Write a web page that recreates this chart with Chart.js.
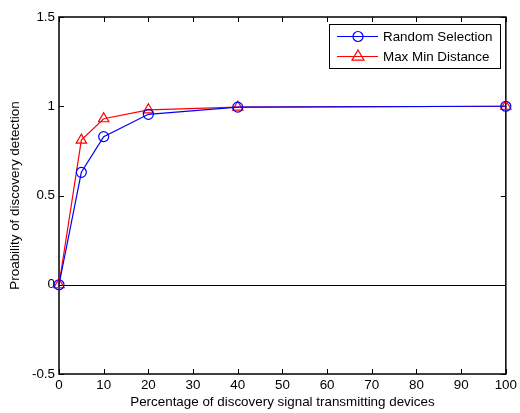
<!DOCTYPE html>
<html>
<head>
<meta charset="utf-8">
<script src="https://cdn.jsdelivr.net/npm/chart.js@4/dist/chart.umd.min.js"></script>
<style>
  html, body { margin: 0; padding: 0; background: #fff; }
  #wrap { width: 520px; height: 413px; }
</style>
</head>
<body>
<div id="wrap"><canvas id="chart" width="520" height="413"></canvas></div>
<script>
// Data
const percentages = [0, 5, 10, 20, 40, 100];
const randomSelection = [0, 0.63, 0.83, 0.955, 0.995, 1.0];
const maxMinDistance = [0, 0.81, 0.93, 0.98, 0.995, 1.0];
const seriesNames = ['Random Selection', 'Max Min Distance'];

const FONT = { family: '"Liberation Sans", Arial, sans-serif', size: 13.4 };

function toPoints(xs, ys) {
    return xs.map((x, i) => ({ x: x, y: ys[i] }));
}

// frame, inward ticks and the y=0 line (matlab style)
const framePlugin = {
    id: 'frame',
    beforeDatasetsDraw(chart) {
        const ctx = chart.ctx;
        const a = chart.chartArea;
        const xs = chart.scales.x, ys = chart.scales.y;
        const len = 5;
        ctx.save();
        ctx.strokeStyle = '#000';
        ctx.lineWidth = 1;

        // zero line
        const y0 = Math.round(ys.getPixelForValue(0)) + 0.5;
        ctx.beginPath();
        ctx.moveTo(a.left, y0);
        ctx.lineTo(a.right, y0);
        ctx.stroke();

        ctx.beginPath();
        xs.ticks.forEach(t => {
            const px = Math.round(xs.getPixelForValue(t.value)) + 0.5;
            ctx.moveTo(px, a.bottom); ctx.lineTo(px, a.bottom - len);
            ctx.moveTo(px, a.top); ctx.lineTo(px, a.top + len);
        });
        ys.ticks.forEach(t => {
            const py = Math.round(ys.getPixelForValue(t.value)) + 0.5;
            ctx.moveTo(a.left, py); ctx.lineTo(a.left + len, py);
            ctx.moveTo(a.right, py); ctx.lineTo(a.right - len, py);
        });
        ctx.stroke();

        ctx.lineWidth = 1.5;
        ctx.strokeRect(a.left, a.top, a.right - a.left, a.bottom - a.top);
        ctx.restore();
    }
};

// legend box inside the plot, top right
const boxLegend = {
    id: 'boxLegend',
    afterDraw(chart) {
        const ctx = chart.ctx;
        const left = 329, top = 24, w = 171, h = 44;
        ctx.save();
        ctx.fillStyle = '#fff';
        ctx.fillRect(left, top, w, h);
        ctx.strokeStyle = '#000';
        ctx.lineWidth = 1;
        ctx.strokeRect(left + 0.5, top + 0.5, w, h);

        chart.data.datasets.forEach((ds, i) => {
            const y = top + 12 + i * 20;
            ctx.strokeStyle = ds.borderColor;
            ctx.lineWidth = ds.borderWidth;
            ctx.beginPath();
            ctx.moveTo(337, y + 0.5);
            ctx.lineTo(378, y + 0.5);
            ctx.stroke();
            const mx = 358;
            ctx.beginPath();
            if (ds.pointStyle === 'circle') {
                ctx.arc(mx, y + 0.5, ds.pointRadius, 0, Math.PI * 2);
            } else {
                const r = ds.pointRadius;
                ctx.moveTo(mx, y - r);
                ctx.lineTo(mx + r, y + r * 0.7);
                ctx.lineTo(mx - r, y + r * 0.7);
                ctx.closePath();
            }
            ctx.stroke();
            ctx.fillStyle = '#000';
            ctx.font = FONT.size + 'px ' + FONT.family;
            ctx.textBaseline = 'middle';
            ctx.fillText(ds.label, 383, y + 1);
        });
        ctx.restore();
    }
};

new Chart(document.getElementById('chart'), {
    type: 'scatter',
    data: {
        datasets: [
            {
                label: seriesNames[0],
                data: toPoints(percentages, randomSelection),
                showLine: true,
                borderColor: '#0000ff',
                backgroundColor: 'rgba(0,0,0,0)',
                borderWidth: 1.2,
                pointStyle: 'circle',
                pointRadius: 5,
                pointBorderWidth: 1.2,
                clip: false
            },
            {
                label: seriesNames[1],
                data: toPoints(percentages, maxMinDistance),
                showLine: true,
                borderColor: '#ff0000',
                backgroundColor: 'rgba(0,0,0,0)',
                borderWidth: 1.2,
                pointStyle: 'triangle',
                pointRadius: 6,
                pointBorderWidth: 1.2,
                clip: false
            }
        ]
    },
    options: {
        responsive: false,
        animation: false,
        layout: { padding: { top: 17, right: 10, left: 0, bottom: 0 } },
        plugins: { legend: { display: false }, tooltip: { enabled: false } },
        scales: {
            x: {
                type: 'linear',
                min: 0, max: 100,
                afterFit: s => { s.height = 39; },
                grid: { display: false, drawTicks: false },
                border: { display: false },
                ticks: { stepSize: 10, color: '#000', font: FONT, padding: 3, maxRotation: 0 },
                title: { display: true, text: 'Percentage of discovery signal transmitting devices', color: '#000', font: FONT, padding: { top: 0, bottom: 3 } }
            },
            y: {
                min: -0.5, max: 1.5,
                afterFit: s => { s.width = 59; },
                grid: { display: false, drawTicks: false },
                border: { display: false },
                ticks: { stepSize: 0.5, color: '#000', font: FONT, padding: 4, callback: v => String(v) },
                title: { display: true, text: 'Proability of discovery detection', color: '#000', font: FONT, padding: { top: 7, bottom: 0 } }
            }
        }
    },
    plugins: [framePlugin, boxLegend]
});
</script>
</body>
</html>
